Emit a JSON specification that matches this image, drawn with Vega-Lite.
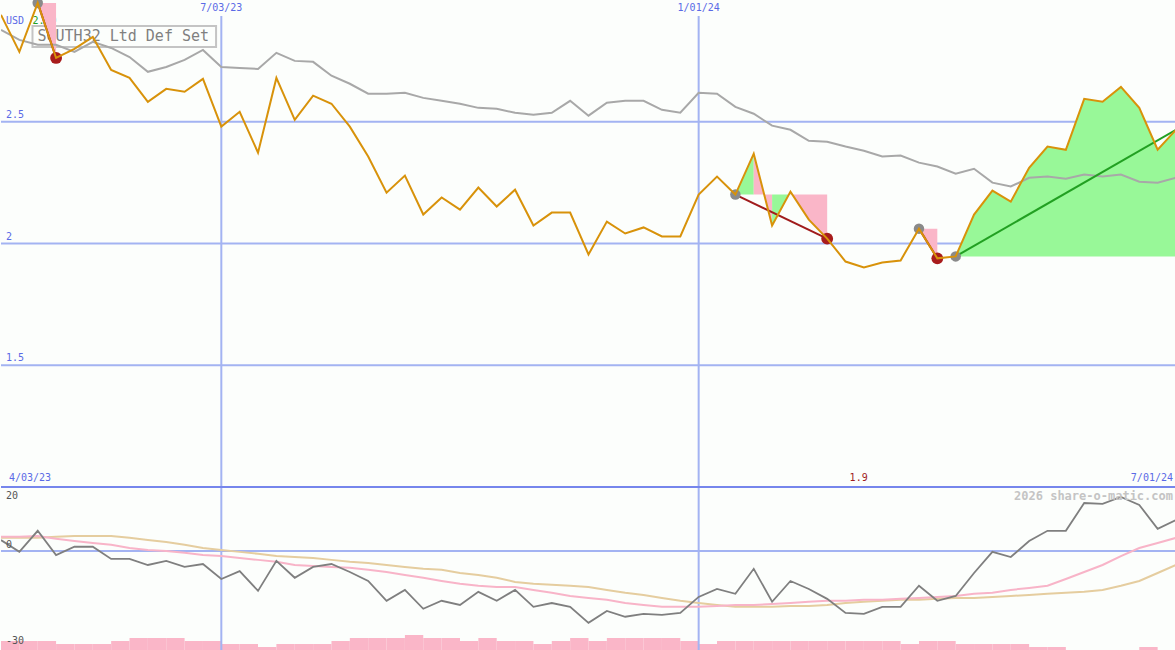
{
  "$schema": "https://vega.github.io/schema/vega-lite/v6.json",
  "background": "#fcfefc",
  "padding": 0,
  "spacing": 0,
  "bounds": "flush",
  "config": {
    "view": {"stroke": null},
    "axis": {"disable": true},
    "legend": {"disable": true},
    "text": {"font": "DejaVu Sans Mono", "fontSize": 10}
  },
  "datasets": {
    "one": [{}],
    "w": [
      {"d":"2023-04-10","e":"2023-04-17","p":2.939,"ma":2.877,"osc":3.4,"pk":4.4,"tn":4.1,"vol":3},
      {"d":"2023-04-17","e":"2023-04-24","p":2.787,"ma":2.836,"osc":-0.3,"pk":4.4,"tn":4.1,"vol":3},
      {"d":"2023-04-24","e":"2023-05-01","p":2.988,"ma":2.816,"osc":6.3,"pk":4.7,"tn":4.1,"vol":3},
      {"d":"2023-05-01","e":"2023-05-08","p":2.762,"ma":2.816,"osc":-1.3,"pk":3.8,"tn":4.4,"vol":2},
      {"d":"2023-05-08","e":"2023-05-15","p":2.799,"ma":2.787,"osc":1.3,"pk":3.1,"tn":4.7,"vol":2},
      {"d":"2023-05-15","e":"2023-05-22","p":2.848,"ma":2.828,"osc":1.3,"pk":2.5,"tn":4.7,"vol":2},
      {"d":"2023-05-22","e":"2023-05-29","p":2.713,"ma":2.803,"osc":-2.5,"pk":1.9,"tn":4.7,"vol":3},
      {"d":"2023-05-29","e":"2023-06-05","p":2.680,"ma":2.766,"osc":-2.5,"pk":0.9,"tn":4.1,"vol":4},
      {"d":"2023-06-05","e":"2023-06-12","p":2.582,"ma":2.705,"osc":-4.4,"pk":0.3,"tn":3.4,"vol":4},
      {"d":"2023-06-12","e":"2023-06-19","p":2.635,"ma":2.725,"osc":-3.1,"pk":0.0,"tn":2.8,"vol":4},
      {"d":"2023-06-19","e":"2023-06-26","p":2.623,"ma":2.754,"osc":-5.0,"pk":-0.6,"tn":1.9,"vol":3},
      {"d":"2023-06-26","e":"2023-07-03","p":2.676,"ma":2.795,"osc":-4.1,"pk":-1.3,"tn":0.9,"vol":3},
      {"d":"2023-07-03","e":"2023-07-10","p":2.480,"ma":2.725,"osc":-8.8,"pk":-1.6,"tn":0.3,"vol":2},
      {"d":"2023-07-10","e":"2023-07-17","p":2.541,"ma":2.721,"osc":-6.3,"pk":-2.2,"tn":-0.3,"vol":2},
      {"d":"2023-07-17","e":"2023-07-24","p":2.373,"ma":2.717,"osc":-12.5,"pk":-2.8,"tn":-0.9,"vol":1},
      {"d":"2023-07-24","e":"2023-07-31","p":2.680,"ma":2.783,"osc":-3.1,"pk":-3.4,"tn":-1.6,"vol":2},
      {"d":"2023-07-31","e":"2023-08-07","p":2.508,"ma":2.750,"osc":-8.4,"pk":-4.4,"tn":-1.9,"vol":2},
      {"d":"2023-08-07","e":"2023-08-14","p":2.607,"ma":2.746,"osc":-5.0,"pk":-4.7,"tn":-2.2,"vol":2},
      {"d":"2023-08-14","e":"2023-08-21","p":2.574,"ma":2.689,"osc":-4.1,"pk":-5.0,"tn":-2.8,"vol":3},
      {"d":"2023-08-21","e":"2023-08-28","p":2.480,"ma":2.656,"osc":-6.6,"pk":-5.3,"tn":-3.4,"vol":4},
      {"d":"2023-08-28","e":"2023-09-04","p":2.357,"ma":2.615,"osc":-9.4,"pk":-5.9,"tn":-3.8,"vol":4},
      {"d":"2023-09-04","e":"2023-09-11","p":2.209,"ma":2.615,"osc":-15.6,"pk":-6.6,"tn":-4.4,"vol":4},
      {"d":"2023-09-11","e":"2023-09-18","p":2.279,"ma":2.619,"osc":-12.2,"pk":-7.5,"tn":-5.0,"vol":5},
      {"d":"2023-09-18","e":"2023-09-25","p":2.119,"ma":2.598,"osc":-18.1,"pk":-8.4,"tn":-5.6,"vol":4},
      {"d":"2023-09-25","e":"2023-10-02","p":2.189,"ma":2.586,"osc":-15.6,"pk":-9.4,"tn":-5.9,"vol":4},
      {"d":"2023-10-02","e":"2023-10-09","p":2.139,"ma":2.574,"osc":-16.9,"pk":-10.3,"tn":-6.9,"vol":3},
      {"d":"2023-10-09","e":"2023-10-16","p":2.230,"ma":2.557,"osc":-12.8,"pk":-10.9,"tn":-7.5,"vol":4},
      {"d":"2023-10-16","e":"2023-10-23","p":2.152,"ma":2.553,"osc":-15.6,"pk":-11.3,"tn":-8.4,"vol":3},
      {"d":"2023-10-23","e":"2023-10-30","p":2.221,"ma":2.537,"osc":-12.2,"pk":-11.3,"tn":-9.7,"vol":3},
      {"d":"2023-10-30","e":"2023-11-06","p":2.074,"ma":2.529,"osc":-17.5,"pk":-12.2,"tn":-10.3,"vol":2},
      {"d":"2023-11-06","e":"2023-11-13","p":2.127,"ma":2.537,"osc":-16.3,"pk":-13.1,"tn":-10.6,"vol":3},
      {"d":"2023-11-13","e":"2023-11-20","p":2.127,"ma":2.586,"osc":-17.5,"pk":-14.1,"tn":-10.9,"vol":4},
      {"d":"2023-11-20","e":"2023-11-27","p":1.955,"ma":2.525,"osc":-22.5,"pk":-14.7,"tn":-11.3,"vol":3},
      {"d":"2023-11-27","e":"2023-12-04","p":2.090,"ma":2.578,"osc":-18.8,"pk":-15.3,"tn":-12.2,"vol":4},
      {"d":"2023-12-04","e":"2023-12-11","p":2.041,"ma":2.586,"osc":-20.6,"pk":-16.3,"tn":-13.1,"vol":4},
      {"d":"2023-12-11","e":"2023-12-18","p":2.066,"ma":2.586,"osc":-19.7,"pk":-16.9,"tn":-13.8,"vol":4},
      {"d":"2023-12-18","e":"2023-12-25","p":2.029,"ma":2.549,"osc":-20.0,"pk":-17.5,"tn":-14.7,"vol":4},
      {"d":"2023-12-25","e":"2024-01-01","p":2.029,"ma":2.537,"osc":-19.4,"pk":-17.5,"tn":-15.6,"vol":3},
      {"d":"2024-01-01","e":"2024-01-08","p":2.201,"ma":2.619,"osc":-14.4,"pk":-17.5,"tn":-16.3,"vol":2},
      {"d":"2024-01-08","e":"2024-01-15","p":2.275,"ma":2.615,"osc":-11.9,"pk":-17.2,"tn":-16.9,"vol":3},
      {"d":"2024-01-15","e":"2024-01-22","p":2.201,"ma":2.561,"osc":-13.4,"pk":-16.9,"tn":-17.5,"vol":3},
      {"d":"2024-01-22","e":"2024-01-29","p":2.369,"ma":2.533,"osc":-5.6,"pk":-16.9,"tn":-17.5,"vol":3},
      {"d":"2024-01-29","e":"2024-02-05","p":2.074,"ma":2.484,"osc":-15.9,"pk":-16.6,"tn":-17.5,"vol":3},
      {"d":"2024-02-05","e":"2024-02-12","p":2.213,"ma":2.467,"osc":-9.4,"pk":-16.3,"tn":-17.2,"vol":3},
      {"d":"2024-02-12","e":"2024-02-19","p":2.098,"ma":2.422,"osc":-11.9,"pk":-15.9,"tn":-17.2,"vol":3},
      {"d":"2024-02-19","e":"2024-02-26","p":2.020,"ma":2.418,"osc":-15.0,"pk":-15.6,"tn":-16.9,"vol":3},
      {"d":"2024-02-26","e":"2024-03-04","p":1.926,"ma":2.398,"osc":-19.4,"pk":-15.6,"tn":-16.3,"vol":3},
      {"d":"2024-03-04","e":"2024-03-11","p":1.902,"ma":2.381,"osc":-19.7,"pk":-15.3,"tn":-15.9,"vol":3},
      {"d":"2024-03-11","e":"2024-03-18","p":1.922,"ma":2.357,"osc":-17.5,"pk":-15.3,"tn":-15.6,"vol":3},
      {"d":"2024-03-18","e":"2024-03-25","p":1.930,"ma":2.361,"osc":-17.5,"pk":-15.0,"tn":-15.3,"vol":2},
      {"d":"2024-03-25","e":"2024-04-01","p":2.061,"ma":2.332,"osc":-10.9,"pk":-14.7,"tn":-15.3,"vol":3},
      {"d":"2024-04-01","e":"2024-04-08","p":1.939,"ma":2.316,"osc":-15.6,"pk":-14.4,"tn":-15.0,"vol":3},
      {"d":"2024-04-08","e":"2024-04-15","p":1.947,"ma":2.287,"osc":-14.1,"pk":-14.1,"tn":-14.7,"vol":2},
      {"d":"2024-04-15","e":"2024-04-22","p":2.119,"ma":2.307,"osc":-6.9,"pk":-13.4,"tn":-14.7,"vol":2},
      {"d":"2024-04-22","e":"2024-04-29","p":2.217,"ma":2.250,"osc":-0.3,"pk":-13.1,"tn":-14.4,"vol":2},
      {"d":"2024-04-29","e":"2024-05-06","p":2.172,"ma":2.234,"osc":-1.9,"pk":-12.2,"tn":-14.1,"vol":2},
      {"d":"2024-05-06","e":"2024-05-13","p":2.311,"ma":2.270,"osc":3.1,"pk":-11.6,"tn":-13.8,"vol":1},
      {"d":"2024-05-13","e":"2024-05-20","p":2.398,"ma":2.275,"osc":6.3,"pk":-10.9,"tn":-13.4,"vol":1},
      {"d":"2024-05-20","e":"2024-05-27","p":2.385,"ma":2.266,"osc":6.3,"pk":-8.8,"tn":-13.1,"vol":0},
      {"d":"2024-05-27","e":"2024-06-03","p":2.594,"ma":2.283,"osc":15.0,"pk":-6.6,"tn":-12.8,"vol":0},
      {"d":"2024-06-03","e":"2024-06-10","p":2.582,"ma":2.275,"osc":14.7,"pk":-4.4,"tn":-12.2,"vol":0},
      {"d":"2024-06-10","e":"2024-06-17","p":2.643,"ma":2.283,"osc":16.9,"pk":-1.6,"tn":-10.9,"vol":0},
      {"d":"2024-06-17","e":"2024-06-24","p":2.557,"ma":2.254,"osc":14.4,"pk":0.9,"tn":-9.4,"vol":1},
      {"d":"2024-06-24","e":"2024-07-01","p":2.385,"ma":2.250,"osc":6.9,"pk":2.5,"tn":-6.9,"vol":0},
      {"d":"2024-07-01","e":"2024-07-08","p":2.467,"ma":2.270,"osc":9.7,"pk":4.1,"tn":-4.4,"vol":0}
    ],
    "fills": [
      {"g":"a","c":"dn","d":"2023-04-24","hi":2.988,"lo":2.988},
      {"g":"a","c":"dn","d":"2023-05-01","hi":2.762,"lo":2.988},
      {"g":"b1","c":"up","d":"2024-01-15","hi":2.201,"lo":2.201},
      {"g":"b1","c":"up","d":"2024-01-22","hi":2.369,"lo":2.201},
      {"g":"b2","c":"dn","d":"2024-01-22","hi":2.369,"lo":2.201},
      {"g":"b2","c":"dn","d":"2024-01-29","hi":2.074,"lo":2.201},
      {"g":"b3","c":"up","d":"2024-01-29","hi":2.074,"lo":2.201},
      {"g":"b3","c":"up","d":"2024-02-05","hi":2.213,"lo":2.201},
      {"g":"b4","c":"dn","d":"2024-02-05","hi":2.213,"lo":2.201},
      {"g":"b4","c":"dn","d":"2024-02-12","hi":2.098,"lo":2.201},
      {"g":"b4","c":"dn","d":"2024-02-19","hi":2.020,"lo":2.201},
      {"g":"c","c":"dn","d":"2024-03-25","hi":2.061,"lo":2.061},
      {"g":"c","c":"dn","d":"2024-04-01","hi":1.939,"lo":2.061},
      {"g":"d","c":"up","d":"2024-04-08","hi":1.947,"lo":1.947},
      {"g":"d","c":"up","d":"2024-04-15","hi":2.119,"lo":1.947},
      {"g":"d","c":"up","d":"2024-04-22","hi":2.217,"lo":1.947},
      {"g":"d","c":"up","d":"2024-04-29","hi":2.172,"lo":1.947},
      {"g":"d","c":"up","d":"2024-05-06","hi":2.311,"lo":1.947},
      {"g":"d","c":"up","d":"2024-05-13","hi":2.398,"lo":1.947},
      {"g":"d","c":"up","d":"2024-05-20","hi":2.385,"lo":1.947},
      {"g":"d","c":"up","d":"2024-05-27","hi":2.594,"lo":1.947},
      {"g":"d","c":"up","d":"2024-06-03","hi":2.582,"lo":1.947},
      {"g":"d","c":"up","d":"2024-06-10","hi":2.643,"lo":1.947},
      {"g":"d","c":"up","d":"2024-06-17","hi":2.557,"lo":1.947},
      {"g":"d","c":"up","d":"2024-06-24","hi":2.385,"lo":1.947},
      {"g":"d","c":"up","d":"2024-07-01","hi":2.467,"lo":1.947}
    ],
    "rtrend": [
      {"g":"r1","d":"2023-04-24","v":2.988},
      {"g":"r1","d":"2023-05-01","v":2.762},
      {"g":"r2","d":"2024-01-15","v":2.201},
      {"g":"r2","d":"2024-02-19","v":2.020},
      {"g":"r3","d":"2024-03-25","v":2.061},
      {"g":"r3","d":"2024-04-01","v":1.939}
    ],
    "gtrend": [
      {"g":"g1","d":"2024-04-08","v":1.947},
      {"g":"g1","d":"2024-07-01","v":2.467}
    ],
    "gdots": [
      {"d":"2023-04-24","v":2.988},
      {"d":"2024-01-15","v":2.201},
      {"d":"2024-03-25","v":2.061},
      {"d":"2024-04-08","v":1.947}
    ],
    "rdots": [
      {"d":"2023-05-01","v":2.762},
      {"d":"2024-02-19","v":2.020},
      {"d":"2024-04-01","v":1.939}
    ],
    "hg": [{"v":1.5,"t":"1.5"},{"v":2,"t":"2"},{"v":2.5,"t":"2.5"}],
    "vg": [{"d":"2023-07-03","t":"7/03/23"},{"d":"2024-01-01","t":"1/01/24"}]
  },
  "vconcat": [
    {
      "width": 1175,
      "height": 487,
      "layer": [
        {
          "data": {"name": "hg"},
          "mark": {"type": "rule", "color": "#a3b3f2", "strokeWidth": 2},
          "encoding": {
            "y": {"field": "v", "type": "quantitative", "scale": {"domain": [1, 3], "nice": false}}
          }
        },
        {
          "data": {"name": "vg"},
          "mark": {"type": "rule", "color": "#a3b3f2", "strokeWidth": 2},
          "encoding": {
            "x": {"field": "d", "type": "temporal", "scale": {"type": "utc", "domain": [{"year": 2023, "month": 4, "date": 10, "utc": true}, {"year": 2024, "month": 7, "date": 1, "utc": true}]}},
            "y": {"datum": 2.934, "type": "quantitative"},
            "y2": {"datum": 1}
          }
        },
        {
          "data": {"name": "vg"},
          "mark": {"type": "text", "color": "#5a6ae6", "align": "center", "baseline": "middle"},
          "encoding": {
            "x": {"field": "d", "type": "temporal"},
            "y": {"datum": 2.966, "type": "quantitative"},
            "text": {"field": "t"}
          }
        },
        {
          "data": {"name": "one"},
          "mark": {"type": "rect", "fill": null, "fillOpacity": 0, "stroke": "#c4c4c4", "strokeWidth": 2},
          "encoding": {
            "x": {"datum": {"year": 2023, "month": 4, "date": 22, "utc": true}, "type": "temporal"},
            "x2": {"datum": {"year": 2023, "month": 7, "date": 1, "utc": true}},
            "y": {"datum": 2.893, "type": "quantitative"},
            "y2": {"datum": 2.807}
          }
        },
        {
          "data": {"name": "one"},
          "mark": {"type": "text", "color": "#808080", "align": "left", "baseline": "middle", "fontSize": 15, "dx": 5, "text": "SOUTH32 Ltd Def Set"},
          "encoding": {
            "x": {"datum": {"year": 2023, "month": 4, "date": 22, "utc": true}, "type": "temporal"},
            "y": {"datum": 2.851, "type": "quantitative"}
          }
        },
        {
          "data": {"name": "one"},
          "mark": {"type": "text", "color": "#22a022", "align": "left", "baseline": "middle", "text": "2.99"},
          "encoding": {
            "x": {"datum": {"year": 2023, "month": 4, "date": 22, "utc": true}, "type": "temporal"},
            "y": {"datum": 2.914, "type": "quantitative"}
          }
        },
        {
          "data": {"name": "fills"},
          "mark": {"type": "area", "orient": "vertical", "clip": true, "opacity": 1},
          "encoding": {
            "x": {"field": "d", "type": "temporal"},
            "y": {"field": "hi", "type": "quantitative"},
            "y2": {"field": "lo"},
            "detail": {"field": "g"},
            "color": {"field": "c", "type": "nominal", "scale": {"domain": ["up", "dn"], "range": ["#98f898", "#fab6c8"]}}
          }
        },
        {
          "data": {"name": "w"},
          "mark": {"type": "line", "color": "#a8a8a8", "strokeWidth": 2, "clip": true},
          "encoding": {
            "x": {"field": "d", "type": "temporal"},
            "y": {"field": "ma", "type": "quantitative"}
          }
        },
        {
          "data": {"name": "rtrend"},
          "mark": {"type": "line", "strokeWidth": 2, "color": "#a01c1c", "clip": true},
          "encoding": {
            "x": {"field": "d", "type": "temporal"},
            "y": {"field": "v", "type": "quantitative"},
            "detail": {"field": "g"}
          }
        },
        {
          "data": {"name": "gtrend"},
          "mark": {"type": "line", "strokeWidth": 2, "color": "#22a022", "clip": true},
          "encoding": {
            "x": {"field": "d", "type": "temporal"},
            "y": {"field": "v", "type": "quantitative"},
            "detail": {"field": "g"}
          }
        },
        {
          "data": {"name": "gdots"},
          "mark": {"type": "point", "filled": true, "color": "#8a8a8a", "opacity": 1, "size": 110, "clip": true},
          "encoding": {
            "x": {"field": "d", "type": "temporal"},
            "y": {"field": "v", "type": "quantitative"}
          }
        },
        {
          "data": {"name": "rdots"},
          "mark": {"type": "point", "filled": true, "color": "#a81c1c", "opacity": 1, "size": 140, "clip": true},
          "encoding": {
            "x": {"field": "d", "type": "temporal"},
            "y": {"field": "v", "type": "quantitative"}
          }
        },
        {
          "data": {"name": "w"},
          "mark": {"type": "line", "color": "#d8920a", "strokeWidth": 2, "clip": true},
          "encoding": {
            "x": {"field": "d", "type": "temporal"},
            "y": {"field": "p", "type": "quantitative"}
          }
        },
        {
          "data": {"name": "hg"},
          "mark": {"type": "text", "color": "#5a6ae6", "align": "left", "baseline": "bottom", "dx": 5, "dy": -2},
          "encoding": {
            "x": {"datum": {"year": 2023, "month": 4, "date": 10, "utc": true}, "type": "temporal"},
            "y": {"field": "v", "type": "quantitative"},
            "text": {"field": "t"}
          }
        },
        {
          "data": {"name": "one"},
          "mark": {"type": "text", "color": "#5a6ae6", "align": "left", "baseline": "middle", "dx": 5, "text": "USD"},
          "encoding": {
            "x": {"datum": {"year": 2023, "month": 4, "date": 10, "utc": true}, "type": "temporal"},
            "y": {"datum": 2.914, "type": "quantitative"}
          }
        },
        {
          "data": {"name": "one"},
          "mark": {"type": "text", "color": "#5a6ae6", "align": "left", "baseline": "middle", "dx": 8, "text": "4/03/23"},
          "encoding": {
            "x": {"datum": {"year": 2023, "month": 4, "date": 10, "utc": true}, "type": "temporal"},
            "y": {"datum": 1.035, "type": "quantitative"}
          }
        },
        {
          "data": {"name": "one"},
          "mark": {"type": "text", "color": "#5a6ae6", "align": "right", "baseline": "middle", "dx": -3, "text": "7/01/24"},
          "encoding": {
            "x": {"datum": {"year": 2024, "month": 7, "date": 1, "utc": true}, "type": "temporal"},
            "y": {"datum": 1.035, "type": "quantitative"}
          }
        },
        {
          "data": {"name": "one"},
          "mark": {"type": "text", "color": "#a01c1c", "align": "center", "baseline": "middle", "text": "1.9"},
          "encoding": {
            "x": {"datum": {"year": 2024, "month": 3, "date": 2, "utc": true}, "type": "temporal"},
            "y": {"datum": 1.035, "type": "quantitative"}
          }
        }
      ]
    },
    {
      "width": 1175,
      "height": 163,
      "resolve": {"scale": {"y": "independent"}},
      "layer": [
        {
          "data": {"name": "w"},
          "mark": {"type": "bar", "color": "#fab6c8", "clip": true},
          "encoding": {
            "x": {"field": "d", "type": "temporal", "scale": {"type": "utc", "domain": [{"year": 2023, "month": 4, "date": 10, "utc": true}, {"year": 2024, "month": 7, "date": 1, "utc": true}]}},
            "x2": {"field": "e"},
            "y": {"field": "vol", "type": "quantitative", "scale": {"domain": [0, 54.33], "nice": false}},
            "y2": {"datum": 0}
          }
        },
        {
          "layer": [
            {
              "data": {"name": "one"},
              "mark": {"type": "rule", "color": "#a3b3f2", "strokeWidth": 2},
              "encoding": {
                "y": {"datum": 0, "type": "quantitative", "scale": {"domain": [-31, 20], "nice": false}}
              }
            },
            {
              "data": {"name": "vg"},
              "mark": {"type": "rule", "color": "#a3b3f2", "strokeWidth": 2},
              "encoding": {
                "x": {"field": "d", "type": "temporal"}
              }
            },
            {
              "data": {"name": "one"},
              "mark": {"type": "rule", "color": "#7686ec", "strokeWidth": 2},
              "encoding": {
                "y": {"datum": 20, "type": "quantitative", "scale": {"domain": [-31, 20], "nice": false}}
              }
            },
            {
              "data": {"name": "w"},
              "mark": {"type": "line", "color": "#e5cd9f", "strokeWidth": 2, "clip": true},
              "encoding": {
                "x": {"field": "d", "type": "temporal"},
                "y": {"field": "tn", "type": "quantitative", "scale": {"domain": [-31, 20], "nice": false}}
              }
            },
            {
              "data": {"name": "w"},
              "mark": {"type": "line", "color": "#f8b4c8", "strokeWidth": 2, "clip": true},
              "encoding": {
                "x": {"field": "d", "type": "temporal"},
                "y": {"field": "pk", "type": "quantitative", "scale": {"domain": [-31, 20], "nice": false}}
              }
            },
            {
              "data": {"name": "w"},
              "mark": {"type": "line", "color": "#7f7f7f", "strokeWidth": 1.8, "clip": true},
              "encoding": {
                "x": {"field": "d", "type": "temporal"},
                "y": {"field": "osc", "type": "quantitative", "scale": {"domain": [-31, 20], "nice": false}}
              }
            },
            {
              "data": {"name": "one"},
              "mark": {"type": "text", "color": "#555555", "align": "left", "baseline": "middle", "dx": 5, "text": "20"},
              "encoding": {
                "x": {"datum": {"year": 2023, "month": 4, "date": 10, "utc": true}, "type": "temporal"},
                "y": {"datum": 17.2, "type": "quantitative", "scale": {"domain": [-31, 20], "nice": false}}
              }
            },
            {
              "data": {"name": "one"},
              "mark": {"type": "text", "color": "#555555", "align": "left", "baseline": "middle", "dx": 5, "text": "0"},
              "encoding": {
                "x": {"datum": {"year": 2023, "month": 4, "date": 10, "utc": true}, "type": "temporal"},
                "y": {"datum": 1.7, "type": "quantitative", "scale": {"domain": [-31, 20], "nice": false}}
              }
            },
            {
              "data": {"name": "one"},
              "mark": {"type": "text", "color": "#555555", "align": "left", "baseline": "middle", "dx": 5, "text": "-30"},
              "encoding": {
                "x": {"datum": {"year": 2023, "month": 4, "date": 10, "utc": true}, "type": "temporal"},
                "y": {"datum": -28.3, "type": "quantitative", "scale": {"domain": [-31, 20], "nice": false}}
              }
            },
            {
              "data": {"name": "one"},
              "mark": {"type": "text", "color": "#c4c4c4", "align": "right", "baseline": "middle", "dx": -3, "fontSize": 12, "fontWeight": "bold", "text": "2026 share-o-matic.com"},
              "encoding": {
                "x": {"datum": {"year": 2024, "month": 7, "date": 1, "utc": true}, "type": "temporal"},
                "y": {"datum": 17.2, "type": "quantitative", "scale": {"domain": [-31, 20], "nice": false}}
              }
            }
          ]
        }
      ]
    }
  ]
}
